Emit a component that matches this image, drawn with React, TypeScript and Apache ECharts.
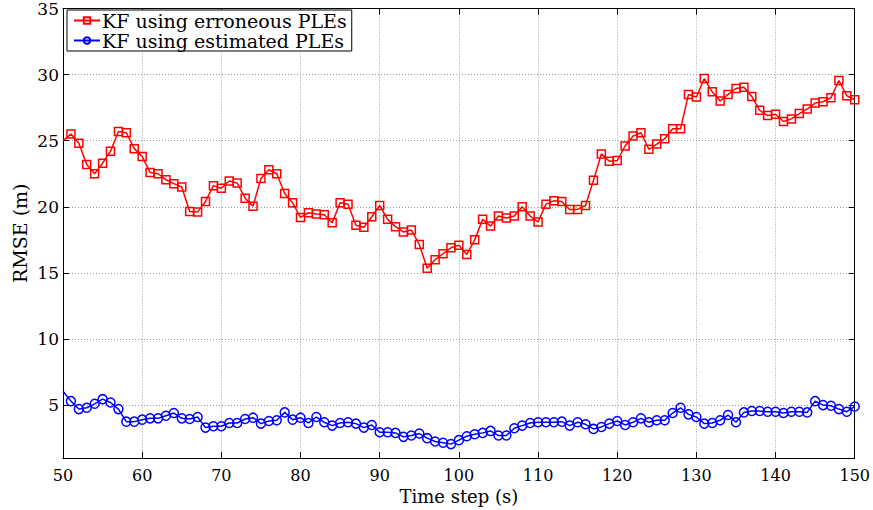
import React, { useEffect, useRef } from "react";
import * as echarts from "echarts";

// Time steps (s)
const timeSteps: number[] = Array.from({ length: 101 }, (_, i) => 50 + i);

// RMSE (m) of the Kalman filter fed with erroneous path-loss exponents
const rmseErroneous: number[] = [
  25.0,
  25.5, 24.8, 23.2, 22.5, 23.3, 24.2, 25.7, 25.6, 24.4, 23.8,
  22.6, 22.5, 22.05, 21.75, 21.5, 19.65, 19.6, 20.4, 21.6, 21.4,
  21.95, 21.8, 20.65, 20.05, 22.15, 22.8, 22.5, 21.0, 20.3, 19.2,
  19.55, 19.45, 19.4, 18.8, 20.3, 20.2, 18.6, 18.45, 19.25, 20.1,
  19.05, 18.5, 18.1, 18.25, 17.15, 15.35, 16.0, 16.45, 16.9, 17.1,
  16.4, 17.5, 19.05, 18.55, 19.3, 19.15, 19.3, 20.0, 19.3, 18.85,
  20.2, 20.45, 20.4, 19.8, 19.8, 20.1, 22.0, 24.0, 23.45, 23.5,
  24.6, 25.35, 25.6, 24.35, 24.75, 25.15, 25.9, 25.9, 28.5, 28.3,
  29.7, 28.7, 28.0, 28.5, 28.95, 29.05, 28.35, 27.3, 26.9, 27.0,
  26.45, 26.65, 27.05, 27.4, 27.85, 27.95, 28.25, 29.55, 28.4, 28.1,
];

// RMSE (m) of the Kalman filter fed with estimated path-loss exponents
const rmseEstimated: number[] = [
  6.05,
  5.3, 4.7, 4.8, 5.1, 5.45, 5.2, 4.7, 3.75, 3.75, 3.9,
  4.0, 4.0, 4.2, 4.4, 4.0, 3.95, 4.1, 3.3, 3.4, 3.4,
  3.65, 3.65, 3.95, 4.05, 3.6, 3.8, 3.85, 4.45, 3.9, 4.05,
  3.65, 4.1, 3.7, 3.45, 3.65, 3.7, 3.6, 3.3, 3.5, 2.95,
  2.95, 2.9, 2.6, 2.7, 2.85, 2.5, 2.25, 2.15, 2.05, 2.35,
  2.65, 2.8, 2.9, 3.05, 2.7, 2.7, 3.25, 3.45, 3.65, 3.7,
  3.7, 3.7, 3.75, 3.45, 3.7, 3.55, 3.2, 3.35, 3.6, 3.8,
  3.5, 3.7, 4.0, 3.7, 3.85, 3.85, 4.4, 4.8, 4.3, 4.1,
  3.6, 3.65, 3.85, 4.25, 3.7, 4.45, 4.55, 4.55, 4.5, 4.5,
  4.4, 4.5, 4.5, 4.45, 5.3, 5.0, 4.95, 4.7, 4.5, 4.9,
];

const seriesNames = ["KF using erroneous PLEs", "KF using estimated PLEs"];

const FONT = "DejaVu Serif";

// the first sample sits on the left border and carries no marker
const toPoints = (values: number[]) =>
  values.map((v, i) =>
    i === 0
      ? { value: [timeSteps[i], v], symbol: "none" }
      : { value: [timeSteps[i], v] }
  );

export default function App() {
  const ref = useRef<HTMLDivElement>(null);

  useEffect(() => {
    if (!ref.current) return;
    const chart = echarts.init(ref.current, undefined, { renderer: "svg" });

    const gridLine = {
      show: true,
      lineStyle: { color: "#9a9a9a", width: 1, type: [1, 2] as number[] },
    };
    const axisLine = { show: true, lineStyle: { color: "#000", width: 1 } };
    const tick = { show: true, inside: true, length: 6, lineStyle: { color: "#000" } };

    chart.setOption({
      animation: false,
      backgroundColor: "#fff",
      grid: { left: 63, right: 18, top: 6, bottom: 52, containLabel: false },
      legend: {
        orient: "vertical",
        left: 67,
        top: 10,
        padding: [1, 5, 1, 6],
        itemGap: 1,
        itemWidth: 26,
        itemHeight: 8,
        backgroundColor: "#fff",
        borderColor: "#000",
        borderWidth: 1,
        borderRadius: 0,
        textStyle: {
          fontFamily: FONT,
          fontSize: 19,
          lineHeight: 18,
          color: "#000",
          padding: [0, 0, 0, -3],
        },
        data: seriesNames,
      },
      xAxis: [
        {
          type: "value",
          min: 50,
          max: 150,
          interval: 10,
          name: "Time step (s)",
          nameLocation: "middle",
          nameGap: 29,
          nameMoveOverlap: false,
          nameTextStyle: { fontFamily: FONT, fontSize: 18, color: "#000" },
          axisLine,
          axisTick: tick,
          axisLabel: { fontFamily: FONT, fontSize: 16, color: "#000", margin: 9 },
          splitLine: gridLine,
        },
        {
          type: "value",
          position: "top",
          min: 50,
          max: 150,
          interval: 10,
          axisLine,
          axisTick: tick,
          axisLabel: { show: false },
          splitLine: { show: false },
        },
      ],
      yAxis: [
        {
          type: "value",
          min: 1,
          max: 35,
          splitNumber: 7,
          minInterval: 5,
          maxInterval: 5,
          name: "RMSE (m)",
          nameLocation: "middle",
          nameGap: 34,
          nameMoveOverlap: false,
          nameTextStyle: { fontFamily: FONT, fontSize: 19, color: "#000" },
          axisLine,
          axisTick: tick,
          axisLabel: {
            fontFamily: FONT,
            fontSize: 17,
            color: "#000",
            margin: 4,
            formatter: (v: number) => (v % 5 === 0 ? String(v) : ""),
          },
          splitLine: gridLine,
        },
        {
          type: "value",
          position: "right",
          min: 1,
          max: 35,
          splitNumber: 7,
          minInterval: 5,
          maxInterval: 5,
          axisLine,
          axisTick: tick,
          axisLabel: { show: false },
          splitLine: { show: false },
        },
      ],
      series: [
        {
          name: seriesNames[0],
          type: "line",
          xAxisIndex: 0,
          yAxisIndex: 0,
          data: toPoints(rmseErroneous),
          symbol: "rect",
          symbolSize: 8,
          showAllSymbol: true,
          clip: true,
          lineStyle: { color: "#ff0000", width: 1.5 },
          itemStyle: { color: "transparent", borderColor: "#ff0000", borderWidth: 1.5 },
          emphasis: { disabled: true },
        },
        {
          name: seriesNames[1],
          type: "line",
          xAxisIndex: 0,
          yAxisIndex: 0,
          data: toPoints(rmseEstimated),
          symbol: "circle",
          symbolSize: 9,
          showAllSymbol: true,
          clip: true,
          lineStyle: { color: "#0000ff", width: 1.5 },
          itemStyle: { color: "transparent", borderColor: "#0000ff", borderWidth: 1.5 },
          emphasis: { disabled: true },
        },
      ],
    });

    return () => chart.dispose();
  }, []);

  return (
    <div
      ref={ref}
      style={{ position: "fixed", left: 0, top: 0, width: 873, height: 510 }}
    />
  );
}
